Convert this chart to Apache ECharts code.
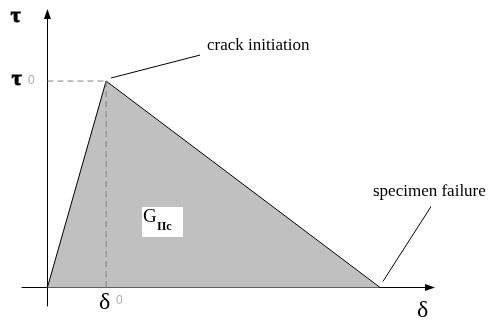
<!DOCTYPE html>
<html>
<head>
<meta charset="utf-8">
<script src="https://cdn.jsdelivr.net/npm/echarts@6/dist/echarts.min.js"></script>
<style>html,body{margin:0;padding:0;background:#fff;}#chart{width:496px;height:324px;}</style>
</head>
<body>
<div id="chart"></div>
<script>
// Bilinear traction-separation law (abstract units)
var delta0 = 0.6;      // displacement at crack initiation
var deltaF = 3.4;      // displacement at specimen failure
var tau0 = 1.0;        // peak shear stress
var lawX = [0, delta0, deltaF];
var lawY = [0, tau0, 0];
// dashed guide lines
var guideH = [[0, tau0], [delta0, tau0]];
var guideV = [[delta0, tau0], [delta0, 0]];
// leader lines for annotations
var leaderCrack = [[0.651, 1.015], [1.56, 1.126]];
var leaderFail = [[3.43, 0.029], [3.93, 0.398]];

var lawData = lawX.map(function (x, i) { return [x, lawY[i]]; });

var serif = '"Liberation Serif", "DejaVu Serif", serif';
var chart = echarts.init(document.getElementById('chart'));
chart.setOption({
  animation: false,
  backgroundColor: '#fff',
  grid: { left: 22, right: 66, top: 14, bottom: 18 },
  xAxis: {
    type: 'value', min: -0.26, max: 3.911,
    axisLine: { onZero: true, lineStyle: { color: '#000', width: 1 }, symbol: ['none', 'triangle'], symbolSize: [7, 10] },
    axisTick: { show: false }, axisLabel: { show: false }, splitLine: { show: false }
  },
  yAxis: {
    type: 'value', min: -0.09, max: 1.325,
    axisLine: { onZero: true, lineStyle: { color: '#000', width: 1 }, symbol: ['none', 'triangle'], symbolSize: [7, 10] },
    axisTick: { show: false }, axisLabel: { show: false }, splitLine: { show: false }
  },
  series: [
    {
      type: 'line', data: lawData, symbol: 'none', z: 2,
      lineStyle: { color: '#000', width: 1 },
      areaStyle: { color: '#c0c0c0', opacity: 1 }
    },
    {
      type: 'line', data: guideH, symbol: 'none', z: 3,
      lineStyle: { color: '#808080', width: 1, type: [6, 4] }
    },
    {
      type: 'line', data: guideV, symbol: 'none', z: 3,
      lineStyle: { color: '#808080', width: 1, type: [6, 4] }
    },
    {
      type: 'line', data: leaderCrack, symbol: 'none', clip: false, z: 3,
      lineStyle: { color: '#000', width: 1 }
    },
    {
      type: 'line', data: leaderFail, symbol: 'none', clip: false, z: 3,
      lineStyle: { color: '#000', width: 1 }
    }
  ],
  graphic: [
    { type: 'text', left: 10, top: 5, style: { text: 'τ', font: 'bold 22px ' + serif, fill: '#000', stroke: '#000', lineWidth: 0.8 } },
    { type: 'text', left: 11, top: 68, style: { text: 'τ', font: 'bold 22px ' + serif, fill: '#000', stroke: '#000', lineWidth: 0.8 } },
    { type: 'text', left: 28, top: 75, style: { text: '0', font: '12px "Liberation Sans", sans-serif', fill: '#aaa' } },
    { type: 'text', left: 99, top: 291, style: { text: 'δ', font: '24px ' + serif, fill: '#000' } },
    { type: 'text', left: 116, top: 295, style: { text: '0', font: '12px "Liberation Sans", sans-serif', fill: '#aaa' } },
    { type: 'text', left: 417, top: 299, style: { text: 'δ', font: '24px ' + serif, fill: '#000' } },
    { type: 'text', left: 207, top: 37, style: { text: 'crack initiation', font: '17px ' + serif, fill: '#000' } },
    { type: 'text', left: 373, top: 183, style: { text: 'specimen failure', font: '17px ' + serif, fill: '#000' } },
    { type: 'rect', left: 142, top: 207, z: 10, shape: { width: 41, height: 30 }, style: { fill: '#fff' } },
    { type: 'text', left: 143, top: 208, z: 11, style: { text: 'G', font: '19px ' + serif, fill: '#000' } },
    { type: 'text', left: 157, top: 221, z: 11, style: { text: 'IIc', font: 'bold 12px ' + serif, fill: '#000' } }
  ]
});
</script>
</body>
</html>
